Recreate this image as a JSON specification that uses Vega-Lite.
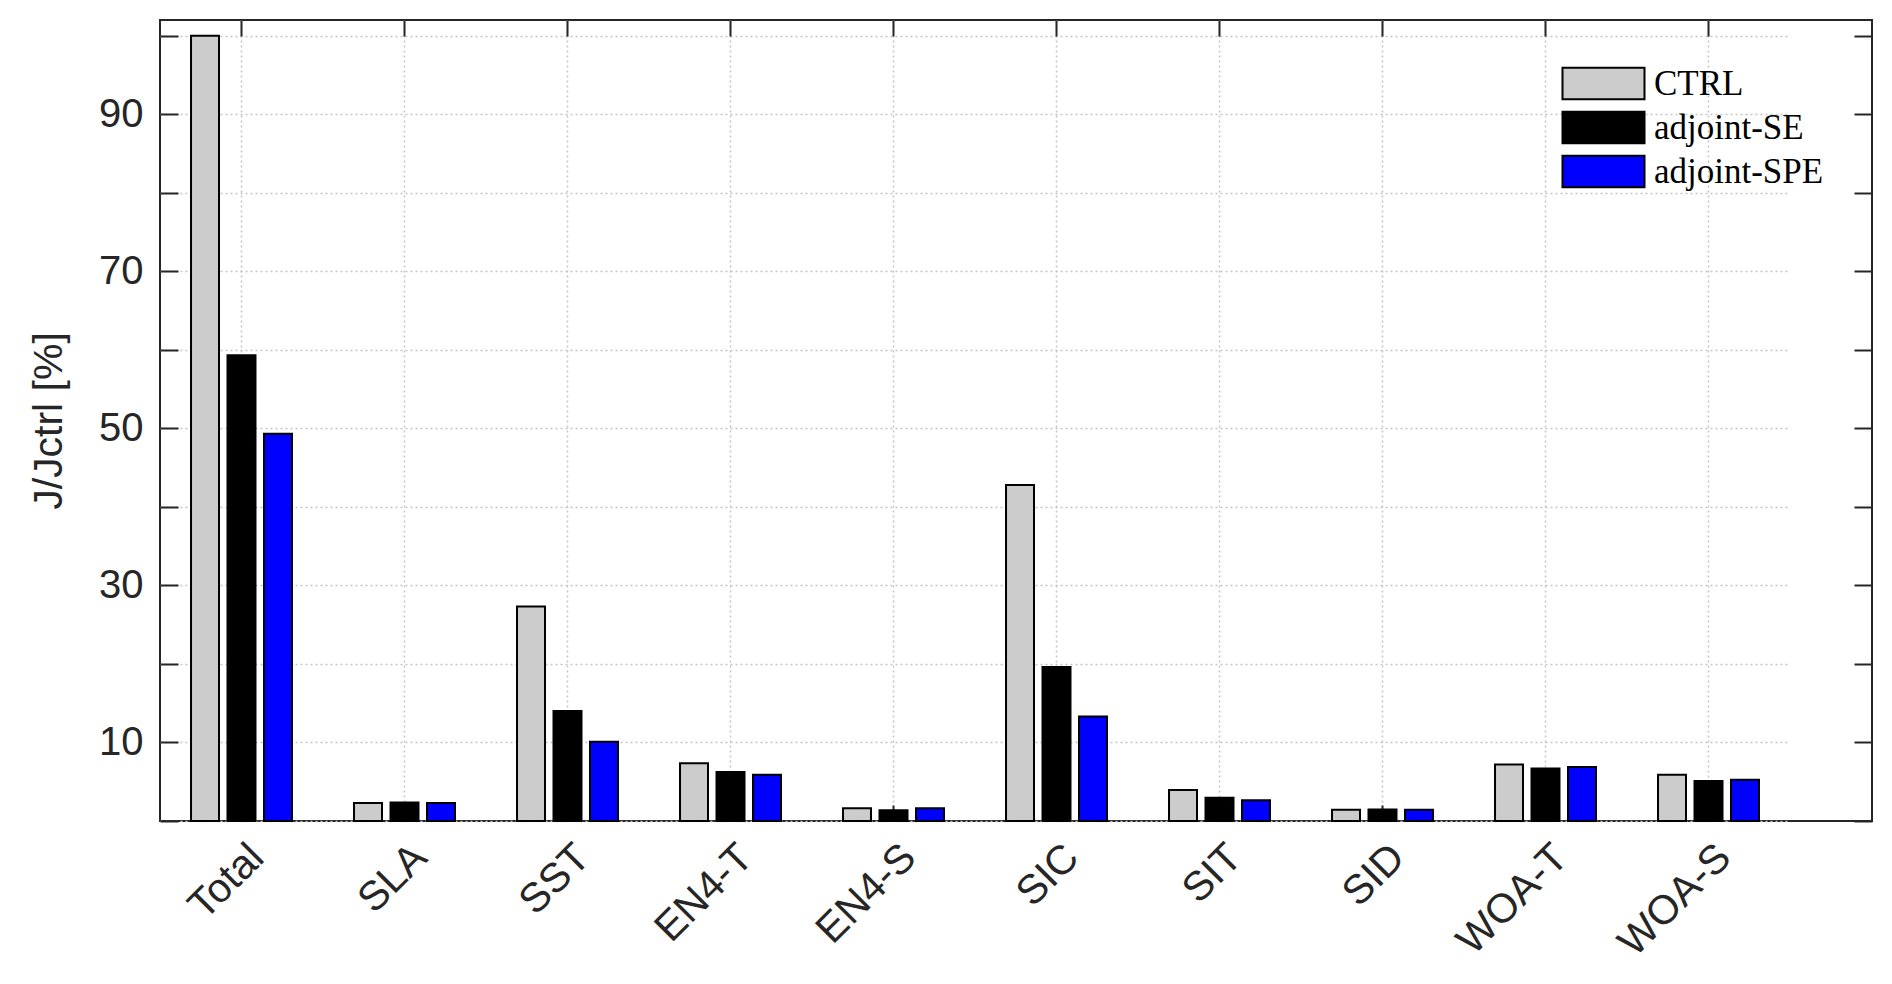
{
  "$schema": "https://vega.github.io/schema/vega-lite/v6.json",
  "width": 1712,
  "height": 801,
  "autosize": {"type": "none"},
  "padding": {"left": 160, "top": 20, "right": 20, "bottom": 163},
  "background": "white",
  "config": {
    "view": {"stroke": "#262626", "strokeWidth": 2},
    "axis": {"labelFont": "Liberation Sans", "titleFont": "Liberation Sans", "labelColor": "#262626", "titleColor": "#262626", "tickColor": "#262626", "tickWidth": 2, "domain": false, "gridColor": "#c4c4c4", "gridDash": [2, 3], "gridWidth": 1.5}
  },
  "data": {
    "values": [
      {"obs": "Total", "exp": "CTRL", "value": 100},
      {"obs": "Total", "exp": "adjoint-SE", "value": 59.3},
      {"obs": "Total", "exp": "adjoint-SPE", "value": 49.3},
      {"obs": "SLA", "exp": "CTRL", "value": 2.3},
      {"obs": "SLA", "exp": "adjoint-SE", "value": 2.35},
      {"obs": "SLA", "exp": "adjoint-SPE", "value": 2.3},
      {"obs": "SST", "exp": "CTRL", "value": 27.3},
      {"obs": "SST", "exp": "adjoint-SE", "value": 14.0},
      {"obs": "SST", "exp": "adjoint-SPE", "value": 10.1},
      {"obs": "EN4-T", "exp": "CTRL", "value": 7.34},
      {"obs": "EN4-T", "exp": "adjoint-SE", "value": 6.23},
      {"obs": "EN4-T", "exp": "adjoint-SPE", "value": 5.9},
      {"obs": "EN4-S", "exp": "CTRL", "value": 1.61},
      {"obs": "EN4-S", "exp": "adjoint-SE", "value": 1.36},
      {"obs": "EN4-S", "exp": "adjoint-SPE", "value": 1.61},
      {"obs": "SIC", "exp": "CTRL", "value": 42.8},
      {"obs": "SIC", "exp": "adjoint-SE", "value": 19.6},
      {"obs": "SIC", "exp": "adjoint-SPE", "value": 13.3},
      {"obs": "SIT", "exp": "CTRL", "value": 3.94},
      {"obs": "SIT", "exp": "adjoint-SE", "value": 2.97},
      {"obs": "SIT", "exp": "adjoint-SPE", "value": 2.63},
      {"obs": "SID", "exp": "CTRL", "value": 1.44},
      {"obs": "SID", "exp": "adjoint-SE", "value": 1.46},
      {"obs": "SID", "exp": "adjoint-SPE", "value": 1.44},
      {"obs": "WOA-T", "exp": "CTRL", "value": 7.2},
      {"obs": "WOA-T", "exp": "adjoint-SE", "value": 6.7},
      {"obs": "WOA-T", "exp": "adjoint-SPE", "value": 6.87},
      {"obs": "WOA-S", "exp": "CTRL", "value": 5.9},
      {"obs": "WOA-S", "exp": "adjoint-SE", "value": 5.09},
      {"obs": "WOA-S", "exp": "adjoint-SPE", "value": 5.26}
    ]
  },
  "layer": [
    {
      "mark": {"type": "bar", "stroke": "#000000", "strokeWidth": 2},
      "encoding": {
        "x": {
          "field": "obs", "type": "nominal",
          "sort": ["Total", "SLA", "SST", "EN4-T", "EN4-S", "SIC", "SIT", "SID", "WOA-T", "WOA-S"],
          "scale": {"range": [0, 1630], "paddingInner": 0, "paddingOuter": 0},
          "axis": {"orient": "bottom", "title": null, "bandPosition": 0.5, "grid": true, "tickSize": -16, "labelPadding": 46, "labelAngle": -45, "labelAlign": "right", "labelBaseline": "middle", "labelFontSize": 41, "labelOffset": 16}
        },
        "xOffset": {
          "field": "exp", "type": "nominal",
          "sort": ["CTRL", "adjoint-SE", "adjoint-SPE"],
          "scale": {"paddingInner": 0.233, "paddingOuter": 0.85}
        },
        "y": {
          "field": "value", "type": "quantitative",
          "scale": {"domain": [0, 102], "nice": false, "zero": true},
          "axis": {"orient": "left", "title": "J/Jctrl [%]", "titleFontSize": 41, "titleFontWeight": "normal", "titlePadding": 28, "values": [0, 10, 20, 30, 40, 50, 60, 70, 80, 90, 100], "labelExpr": "datum.value % 20 == 10 ? datum.label : ''", "grid": true, "tickSize": -18, "labelPadding": 35, "labelFontSize": 40}
        },
        "fill": {
          "field": "exp", "type": "nominal",
          "scale": {"domain": ["CTRL", "adjoint-SE", "adjoint-SPE"], "range": ["#cccccc", "#000000", "#0000ff"]},
          "legend": {
            "title": null, "orient": "none", "legendX": 1426, "legendY": 46, "padding": 0,
            "symbolType": "M-2.5,-0.96H2.5V0.96H-2.5Z", "symbolSize": 1076, "symbolStrokeColor": "#000000", "symbolStrokeWidth": 2, "symbolOpacity": 1,
            "labelFont": "Liberation Serif", "labelFontSize": 35, "labelColor": "#000000", "labelOffset": 33, "labelLimit": 0, "rowPadding": 3
          }
        }
      }
    },
    {
      "mark": {"type": "bar", "opacity": 0},
      "encoding": {
        "x": {
          "field": "obs", "type": "nominal",
          "sort": ["Total", "SLA", "SST", "EN4-T", "EN4-S", "SIC", "SIT", "SID", "WOA-T", "WOA-S"],
          "axis": {"orient": "top", "title": null, "bandPosition": 0.5, "grid": false, "labels": false, "tickSize": -16}
        },
        "y": {
          "field": "value", "type": "quantitative",
          "axis": {"orient": "right", "title": null, "values": [0, 10, 20, 30, 40, 50, 60, 70, 80, 90, 100], "grid": false, "labels": false, "tickSize": -18}
        }
      }
    }
  ],
  "resolve": {"axis": {"x": "independent", "y": "independent"}}
}
